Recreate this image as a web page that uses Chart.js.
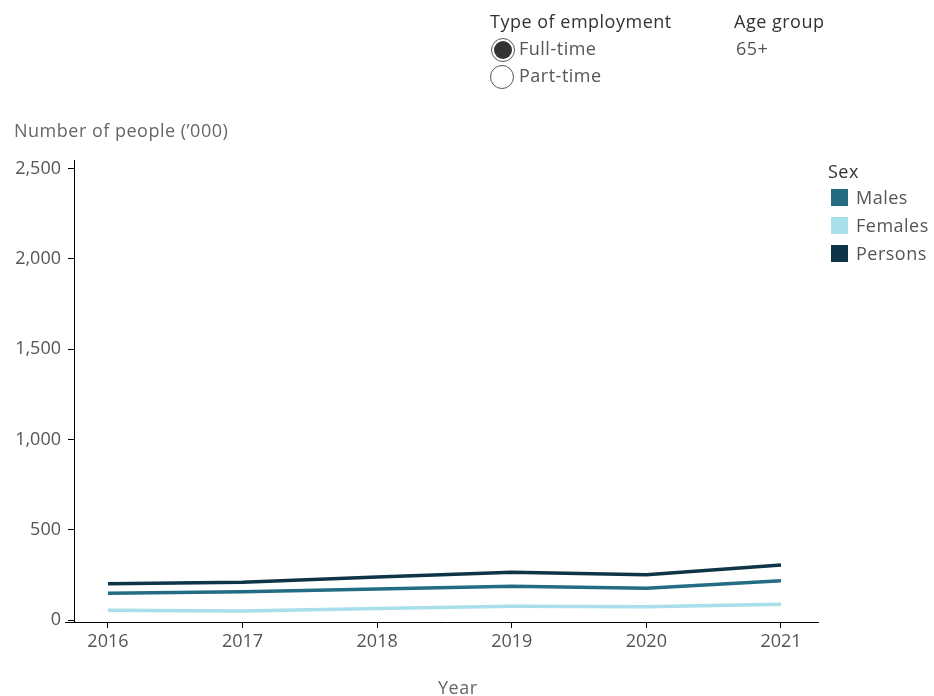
<!DOCTYPE html>
<html>
<head>
<meta charset="utf-8">
<script src="https://cdn.jsdelivr.net/npm/chart.js@4/dist/chart.umd.min.js"></script>
<style>
  html, body { margin:0; padding:0; background:#fff; }
  body { width:934px; height:696px; position:relative; overflow:hidden; font-family:"Open Sans", "Noto Sans", sans-serif; }
  #wrap { position:absolute; left:0; top:0; width:934px; height:696px; }
  .t { position:absolute; white-space:nowrap; line-height:1; font-size:18px; letter-spacing:0.5px; }
  .radio { position:absolute; width:24px; height:24px; border:1px solid #555; border-radius:50%; box-sizing:border-box; background:#fff; }
  .radio.on::after { content:""; position:absolute; left:2px; top:2px; width:18px; height:18px; border-radius:50%; background:#333; }
  .sw { position:absolute; width:17px; height:17px; }
</style>
</head>
<body>
<div id="wrap"><canvas id="c" width="934" height="696"></canvas></div>

<div class="t" style="left:490px;top:12px;color:#333;">Type of employment</div>
<div class="radio on" style="left:491px;top:38px;"></div>
<div class="t" style="left:519px;top:39px;color:#555;">Full-time</div>
<div class="radio" style="left:490px;top:65px;"></div>
<div class="t" style="left:519px;top:66px;color:#555;">Part-time</div>
<div class="t" style="left:734px;top:12px;color:#333;">Age group</div>
<div class="t" style="left:736px;top:39px;color:#555;">65+</div>

<div class="t" style="left:14px;top:121px;color:#666;">Number of people (’000)</div>
<div class="t" style="left:438px;top:678px;color:#666;">Year</div>

<div class="t" style="left:828px;top:162px;color:#333;">Sex</div>
<div id="legend"></div>

<script>
const years = [2016, 2017, 2018, 2019, 2020, 2021];
const males = [148, 157, 172, 187, 176, 218];
const females = [54, 50, 64, 76, 74, 87];
const persons = [201, 209, 238, 264, 251, 305];
const yTicks = [0, 500, 1000, 1500, 2000, 2500];
const seriesNames = ['Males', 'Females', 'Persons'];
const seriesColors = ['#236c83', '#a9dfea', '#0e3448'];

const legend = document.getElementById('legend');
seriesNames.forEach((n, i) => {
  const sw = document.createElement('div');
  sw.className = 'sw';
  sw.style.left = '831px';
  sw.style.top = (189 + i * 28) + 'px';
  sw.style.background = seriesColors[i];
  legend.appendChild(sw);
  const tx = document.createElement('div');
  tx.className = 't';
  tx.style.left = '856px';
  tx.style.top = (188 + i * 28) + 'px';
  tx.style.color = '#555';
  tx.textContent = n;
  legend.appendChild(tx);
});

const mk = (arr) => years.map((y, i) => ({ x: y, y: arr[i] }));
const seriesData = [males, females, persons];

const axisExt = {
  id: 'axisExt',
  afterDraw(chart) {
    const ctx = chart.ctx, a = chart.chartArea;
    ctx.save();
    ctx.strokeStyle = '#000';
    ctx.lineWidth = 1;
    ctx.beginPath();
    ctx.moveTo(a.left - 9, Math.round(a.bottom) + 0.5);
    ctx.lineTo(a.left, Math.round(a.bottom) + 0.5);
    ctx.stroke();
    ctx.restore();
  }
};

new Chart(document.getElementById('c'), {
  type: 'line',
  data: {
    datasets: seriesNames.map((n, i) => ({
      label: n,
      data: mk(seriesData[i]),
      borderColor: seriesColors[i],
      backgroundColor: seriesColors[i],
      borderWidth: 3.5,
      pointRadius: 0,
      tension: 0,
      fill: false
    }))
  },
  options: {
    responsive: false,
    animation: false,
    layout: { padding: { left: 0, right: 116, top: 160, bottom: 0 } },
    plugins: { legend: { display: false }, tooltip: { enabled: false } },
    scales: {
      x: {
        type: 'linear',
        min: 2015.748,
        max: 2021.275,
        afterBuildTicks: (s) => { s.ticks = years.map(v => ({ value: v })); },
        afterFit: (s) => { s.height = 74; },
        border: { display: true, color: '#000', width: 1 },
        grid: { display: true, drawOnChartArea: false, drawTicks: true, tickLength: 6, color: '#000' },
        ticks: { color: '#555', font: { family: 'Open Sans', size: 18 }, padding: 3, maxRotation: 0, callback: (v) => String(v) }
      },
      y: {
        type: 'linear',
        min: -11,
        max: 2547,
        afterBuildTicks: (s) => { s.ticks = yTicks.map(v => ({ value: v })); },
        afterFit: (s) => { s.width = 74; },
        border: { display: true, color: '#000', width: 1 },
        grid: { display: true, drawOnChartArea: false, drawTicks: true, tickLength: 6, color: '#000' },
        ticks: { color: '#555', font: { family: 'Open Sans', size: 18 }, padding: 7,
                 callback: (v) => v.toLocaleString('en-US') }
      }
    }
  },
  plugins: [axisExt]
});
</script>
</body>
</html>
